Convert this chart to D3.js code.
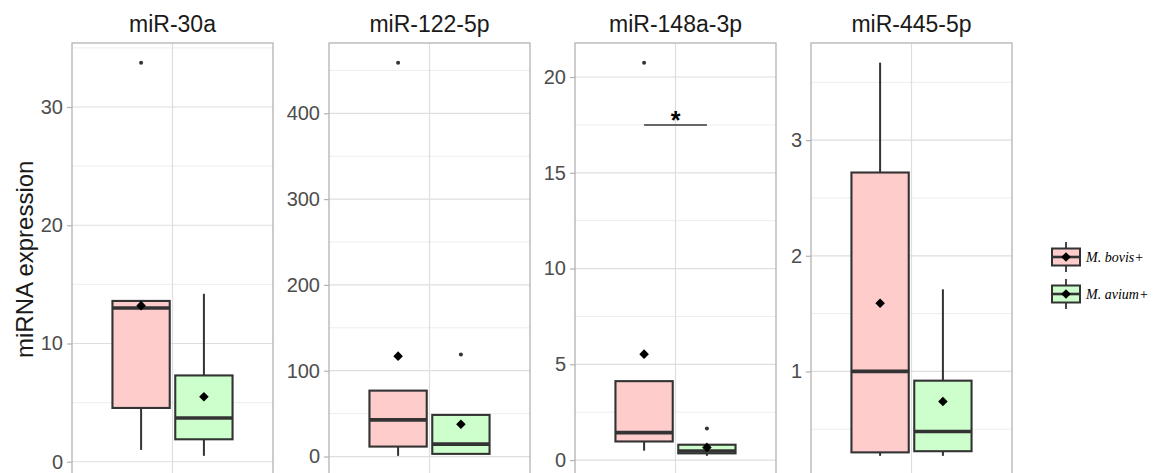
<!DOCTYPE html>
<html><head><meta charset="utf-8">
<script src="https://cdn.jsdelivr.net/npm/d3@7"></script>
<style>body{margin:0;background:#fff}svg{display:block}</style>
</head><body>
<svg id="c" width="1153" height="473"></svg>
<script>
// ---- data ----
const panels = ["miR-30a", "miR-122-5p", "miR-148a-3p", "miR-445-5p"];
const groups = ["M. bovis+", "M. avium+"];
const yTicks = [[0, 10, 20, 30], [0, 100, 200, 300, 400], [0, 5, 10, 15, 20], [1, 2, 3]];

const bovisLow    = [1.0, 0.8, 0.49, 0.27];
const bovisQ1     = [4.55, 11.6, 0.97, 0.30];
const bovisMedian = [13.0, 42.7, 1.43, 1.0];
const bovisQ3     = [13.6, 76.8, 4.12, 2.72];
const bovisHigh   = [13.6, 76.8, 4.12, 3.67];
const bovisMean   = [13.2, 117, 5.53, 1.59];
const bovisOut    = [[33.75], [459], [20.75], []];

const aviumLow    = [0.5, 3.1, 0.22, 0.27];
const aviumQ1     = [1.9, 3.1, 0.35, 0.31];
const aviumMedian = [3.7, 14.4, 0.47, 0.48];
const aviumQ3     = [7.3, 48.5, 0.80, 0.92];
const aviumHigh   = [14.2, 48.5, 0.80, 1.71];
const aviumMean   = [5.5, 37.7, 0.66, 0.74];
const aviumOut    = [[], [119], [1.65], []];

const sigPanel = [2];
const sigY = [17.5];
const sigLabel = ["*"];

const fills = ["#ffcccc", "#ccffcc"];

// ---- layout ----
const svg = d3.select("#c");
const panelLeft = [72, 329, 575, 811];
const panelW = 201, pTop = 43, pBottom = 475.5;
const ink = "#333333";

function stats(p, g) {
  return g === 0
    ? {low: bovisLow[p], q1: bovisQ1[p], med: bovisMedian[p], q3: bovisQ3[p], high: bovisHigh[p], mean: bovisMean[p], out: bovisOut[p]}
    : {low: aviumLow[p], q1: aviumQ1[p], med: aviumMedian[p], q3: aviumQ3[p], high: aviumHigh[p], mean: aviumMean[p], out: aviumOut[p]};
}

const diamond = d3.symbol().type(d3.symbolSquare).size(46)();

panels.forEach((name, p) => {
  const s = [stats(p, 0), stats(p, 1)];
  const vals = s.flatMap(d => [d.low, d.high, d.mean, ...d.out]);
  const mn = d3.min(vals), mx = d3.max(vals), pad = (mx - mn) * 0.05;
  const y = d3.scaleLinear().domain([mn - pad, mx + pad]).range([pBottom, pTop]);
  const x = d3.scaleLinear().domain([0.4, 1.6]).range([0, panelW]);
  const gOff = [-0.1875, 0.1875], halfW = 0.171;

  const g = svg.append("g").attr("transform", `translate(${panelLeft[p]},0)`);

  const ticks = yTicks[p];
  const step = ticks[1] - ticks[0];
  const minor = [];
  for (let v = ticks[0] - step / 2; v <= y.domain()[1]; v += step) if (v >= y.domain()[0]) minor.push(v);
  g.selectAll(".mn").data(minor).join("line")
    .attr("x1", 0).attr("x2", panelW).attr("y1", d => y(d)).attr("y2", d => y(d))
    .attr("stroke", "#ededed").attr("stroke-width", 1);
  g.selectAll(".mj").data(ticks).join("line")
    .attr("x1", 0).attr("x2", panelW).attr("y1", d => y(d)).attr("y2", d => y(d))
    .attr("stroke", "#dedede").attr("stroke-width", 1.2);
  g.append("line").attr("x1", x(1)).attr("x2", x(1)).attr("y1", pTop).attr("y2", pBottom)
    .attr("stroke", "#dedede").attr("stroke-width", 1.2);

  const ax = g.append("g").call(d3.axisLeft(y).tickValues(ticks).tickSize(5).tickPadding(4).tickFormat(d3.format("d")));
  ax.select(".domain").remove();
  ax.selectAll("line").attr("stroke", "#b3b3b3").attr("stroke-width", 1.2);
  ax.selectAll("text").attr("fill", "#4d4d4d").style("font-family", "Liberation Sans, Arial, sans-serif").style("font-size", "20px");

  g.append("text").attr("x", panelW / 2).attr("y", 32).attr("text-anchor", "middle")
    .style("font-family", "Liberation Sans, Arial, sans-serif").style("font-size", "23px").attr("fill", "#1a1a1a").text(name);

  s.forEach((d, gi) => {
    const cx = x(1 + gOff[gi]);
    const x0 = x(1 + gOff[gi] - halfW), x1 = x(1 + gOff[gi] + halfW);
    g.append("line").attr("x1", cx).attr("x2", cx).attr("y1", y(d.q3)).attr("y2", y(d.high)).attr("stroke", ink).attr("stroke-width", 2);
    g.append("line").attr("x1", cx).attr("x2", cx).attr("y1", y(d.q1)).attr("y2", y(d.low)).attr("stroke", ink).attr("stroke-width", 2);
    g.append("rect").attr("x", x0).attr("width", x1 - x0).attr("y", y(d.q3)).attr("height", y(d.q1) - y(d.q3))
      .attr("fill", fills[gi]).attr("stroke", ink).attr("stroke-width", 2.1);
    g.append("line").attr("x1", x0).attr("x2", x1).attr("y1", y(d.med)).attr("y2", y(d.med)).attr("stroke", ink).attr("stroke-width", 3.6);
    g.selectAll(null).data(d.out).join("circle").attr("cx", cx).attr("cy", v => y(v)).attr("r", 2).attr("fill", ink);
    g.append("path").attr("d", diamond).attr("transform", `translate(${cx},${y(d.mean)}) rotate(45)`).attr("fill", "#000");
  });

  sigPanel.forEach((sp, i) => {
    if (sp !== p) return;
    g.append("line").attr("x1", x(1 + gOff[0])).attr("x2", x(1 + gOff[1])).attr("y1", y(sigY[i])).attr("y2", y(sigY[i]))
      .attr("stroke", "#666").attr("stroke-width", 2);
    g.append("text").attr("x", x(1)).attr("y", y(sigY[i]) + 4).attr("text-anchor", "middle")
      .style("font-family", "Liberation Sans, Arial, sans-serif").style("font-size", "25px").style("font-weight", "bold")
      .attr("fill", "#000").text(sigLabel[i]);
  });

  g.append("rect").attr("x", 0).attr("y", pTop).attr("width", panelW).attr("height", pBottom - pTop)
    .attr("fill", "none").attr("stroke", "#b3b3b3").attr("stroke-width", 1.3);
});

svg.append("text").attr("transform", `translate(33,${(pTop + pBottom) / 2}) rotate(-90)`).attr("text-anchor", "middle")
  .style("font-family", "Liberation Sans, Arial, sans-serif").style("font-size", "24px").attr("fill", "#1a1a1a").text("miRNA expression");

const lg = svg.append("g");
const keyX = 1052, keyW = 28, keyH = 17, keyCy = [257, 294];
groups.forEach((name, i) => {
  const cy = keyCy[i];
  const cx = keyX + keyW / 2;
  lg.append("line").attr("x1", cx).attr("x2", cx).attr("y1", cy - 15).attr("y2", cy + 15).attr("stroke", ink).attr("stroke-width", 1.8);
  lg.append("rect").attr("x", keyX).attr("y", cy - keyH / 2).attr("width", keyW).attr("height", keyH)
    .attr("fill", fills[i]).attr("stroke", ink).attr("stroke-width", 2);
  lg.append("line").attr("x1", keyX).attr("x2", keyX + keyW).attr("y1", cy).attr("y2", cy).attr("stroke", ink).attr("stroke-width", 2.6);
  lg.append("path").attr("d", diamond).attr("transform", `translate(${cx},${cy}) rotate(45)`).attr("fill", "#000");
  lg.append("text").attr("x", keyX + keyW + 6).attr("y", cy + 5)
    .style("font-family", "Liberation Serif, Times New Roman, serif").style("font-style", "italic").style("font-size", "14px")
    .attr("fill", "#000").text(name);
});
</script>
</body></html>
